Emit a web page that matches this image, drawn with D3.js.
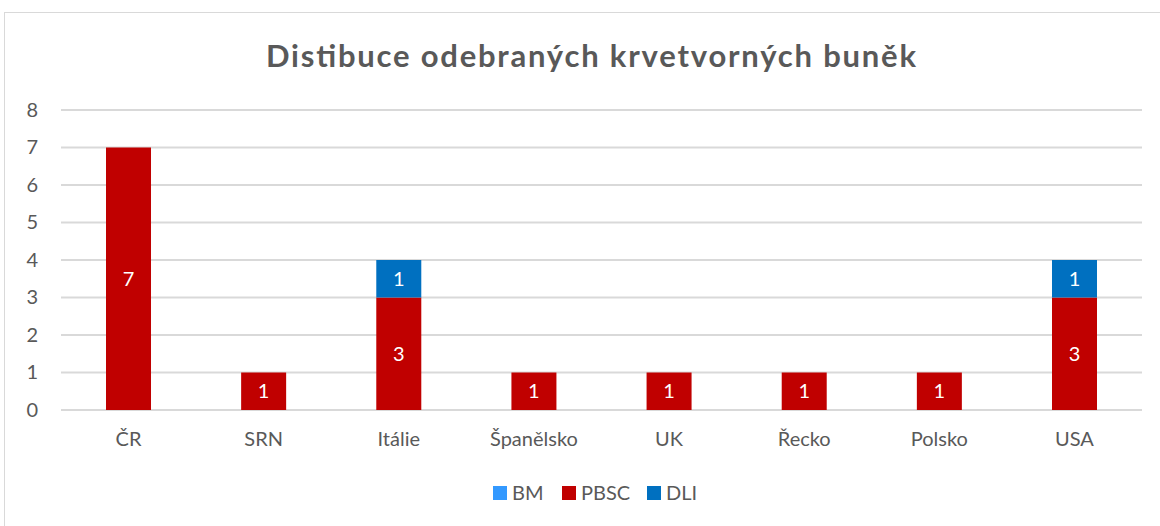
<!DOCTYPE html>
<html><head><meta charset="utf-8">
<script src="https://cdn.jsdelivr.net/npm/d3@7"></script>
<style>body{margin:0;background:#fff;} svg{display:block;}</style>
</head><body>
<script>
const categories = ["ČR","SRN","Itálie","Španělsko","UK","Řecko","Polsko","USA"];
const seriesNames = ["BM","PBSC","DLI"];
const BM   = [0,0,0,0,0,0,0,0];
const PBSC = [7,1,3,1,1,1,1,3];
const DLI  = [0,0,1,0,0,0,0,1];
const yTicks = [0,1,2,3,4,5,6,7,8];
const colors = {BM:"#3399FF", PBSC:"#C00000", DLI:"#0070C0"};
const title = "Distibuce odebraných krvetvorných buněk";

const W = 1160, H = 526;
const font = "Lato, 'Open Sans', sans-serif";
const svg = d3.select("body").append("svg").attr("width", W).attr("height", H);
svg.append("rect").attr("x",4.5).attr("y",12.5).attr("width",1160).attr("height",530)
  .attr("fill","#fff").attr("stroke","#d9d9d9").attr("stroke-width",1);

const x = d3.scaleBand().domain(categories).range([61,1142]).paddingInner(0.667).paddingOuter(0.333);
const y = d3.scaleLinear().domain([0,8]).range([410,110]);

svg.append("text").attr("x",591).attr("y",67).attr("text-anchor","middle")
  .attr("font-family",font).attr("font-weight","bold").attr("font-size",31)
  .attr("textLength",650).attr("lengthAdjust","spacing")
  .attr("fill","#595959").text(title);

// gridlines
svg.append("g").selectAll("line").data(yTicks).join("line")
  .attr("x1",61).attr("x2",1142).attr("y1",d=>y(d)).attr("y2",d=>y(d))
  .attr("stroke","#d9d9d9").attr("stroke-width",2);

// y axis labels
const yAxis = d3.axisLeft(y).tickValues(yTicks).tickSize(0).tickPadding(0);
const gy = svg.append("g").attr("transform","translate(38,0)").call(yAxis);
gy.select(".domain").remove();
gy.selectAll("text").attr("font-family",font).attr("font-size",20).attr("fill","#595959");

// x axis labels
const xAxis = d3.axisBottom(x).tickSize(0).tickPadding(0);
const gx = svg.append("g").attr("transform","translate(0,432)").call(xAxis);
gx.select(".domain").remove();
gx.selectAll("text").attr("font-family",font).attr("font-size",20).attr("fill","#595959");

// stacked data
const rows = categories.map((c,i)=>({cat:c, BM:BM[i], PBSC:PBSC[i], DLI:DLI[i]}));
const stack = d3.stack().keys(seriesNames)(rows);
const g = svg.append("g");
stack.forEach(layer=>{
  const key = layer.key;
  layer.forEach((d,i)=>{
    const v = d[1]-d[0];
    if(v<=0) return;
    g.append("rect").attr("x",x(categories[i])).attr("width",x.bandwidth())
      .attr("y",y(d[1])).attr("height",y(d[0])-y(d[1])).attr("fill",colors[key]);
    g.append("text").attr("x",x(categories[i])+x.bandwidth()/2).attr("y",(y(d[0])+y(d[1]))/2)
      .attr("dy","0.35em").attr("text-anchor","middle").attr("font-family",font)
      .attr("font-size",20).attr("fill","#fff").text(v);
  });
});

// legend
const legX = [493,562,647];
const lg = svg.append("g");
seriesNames.forEach((s,i)=>{
  lg.append("rect").attr("x",legX[i]).attr("y",486).attr("width",14).attr("height",14).attr("fill",colors[s]);
  lg.append("text").attr("x",legX[i]+19).attr("y",493).attr("dy","0.35em")
    .attr("font-family",font).attr("font-size",20).attr("fill","#595959").text(s);
});
</script>
</body></html>
